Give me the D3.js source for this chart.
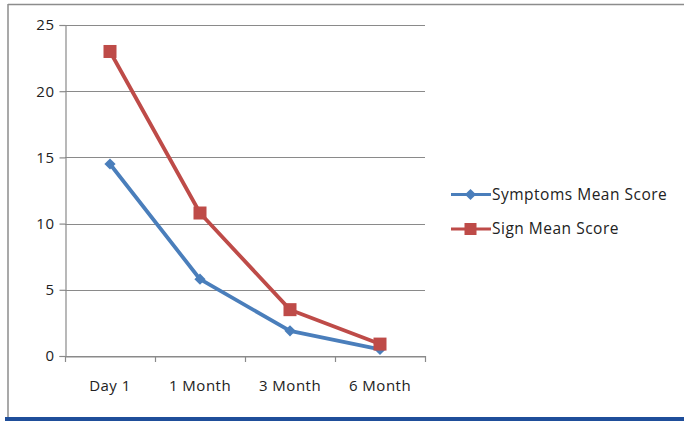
<!DOCTYPE html>
<html><head><meta charset="utf-8">
<script src="https://cdn.jsdelivr.net/npm/d3@7"></script>
<style>html,body{margin:0;padding:0;background:#fff;}svg{display:block;}</style>
</head><body>
<svg id="chart" width="684" height="421"></svg>
<script>
const categories = ["Day 1", "1 Month", "3 Month", "6 Month"];
const symptoms = [14.5, 5.8, 1.9, 0.5];
const signs = [23, 10.8, 3.5, 0.9];
const yTicks = [0, 5, 10, 15, 20, 25];
const seriesNames = ["Symptoms Mean Score", "Sign Mean Score"];
const seriesColors = ["#4A7EBB", "#BE4B48"];

const svg = d3.select("#chart");
const font = "'Open Sans', 'Liberation Sans', Arial, sans-serif";
const fs = 15;
const ls = "0.5px";

// outer frame
svg.append("line").attr("x1", 8).attr("x2", 684).attr("y1", 4.5).attr("y2", 4.5).attr("stroke", "#8c8c8c").attr("stroke-width", 1.5);
svg.append("line").attr("x1", 8).attr("x2", 8).attr("y1", 4).attr("y2", 418).attr("stroke", "#8c8c8c").attr("stroke-width", 1.5);
svg.append("rect").attr("x", 5).attr("y", 417).attr("width", 679).attr("height", 4).attr("fill", "#1F4E9A");

const pLeft = 65, pRight = 425, pTop = 25, pBottom = 356;
const x = d3.scaleBand().domain(categories).range([pLeft, pRight]).padding(0);
const y = d3.scaleLinear().domain([0, 25]).range([pBottom, pTop]);

// gridlines
svg.append("g").selectAll("line").data(yTicks).join("line")
  .attr("x1", pLeft).attr("x2", pRight)
  .attr("y1", d => Math.round(y(d)) + 0.5).attr("y2", d => Math.round(y(d)) + 0.5)
  .attr("stroke", "#8a8a8a").attr("stroke-width", 1.2);

// y axis
const yAxis = svg.append("g").attr("transform", `translate(${pLeft + 0.5},0)`)
  .call(d3.axisLeft(y).tickValues(yTicks).tickSize(6).tickPadding(5));
yAxis.select(".domain").attr("stroke", "#8a8a8a").attr("stroke-width", 1.2);
yAxis.selectAll(".tick line").attr("stroke", "#8a8a8a").attr("stroke-width", 1.2);
yAxis.selectAll(".tick text").attr("font-family", font).attr("font-size", fs).attr("letter-spacing", ls).attr("fill", "#222");

// x axis
const xAxis = svg.append("g").attr("transform", `translate(0,${Math.round(y(0)) + 0.5})`)
  .call(d3.axisBottom(x).tickSize(0).tickPadding(24));
xAxis.select(".domain").attr("stroke", "#8a8a8a").attr("stroke-width", 1.2);
xAxis.selectAll(".tick text").attr("font-family", font).attr("font-size", fs).attr("letter-spacing", ls).attr("fill", "#222");
// boundary ticks
const bounds = categories.map(c => x(c)).concat([pRight]);
svg.append("g").selectAll("line").data(bounds).join("line")
  .attr("x1", d => Math.round(d) + 0.5).attr("x2", d => Math.round(d) + 0.5)
  .attr("y1", Math.round(y(0))).attr("y2", Math.round(y(0)) + 6)
  .attr("stroke", "#8a8a8a").attr("stroke-width", 1.2);

const cx = c => x(c) + x.bandwidth() / 2;
const line = d3.line().x((d, i) => cx(categories[i])).y(d => y(d));

const allSeries = [symptoms, signs];
allSeries.forEach((vals, si) => {
  svg.append("path").datum(vals).attr("d", line)
    .attr("fill", "none").attr("stroke", seriesColors[si]).attr("stroke-width", 3.8)
    .attr("stroke-linejoin", "round");
});
// markers
const diamond = d3.symbol().type(d3.symbolDiamond2).size(80);
svg.append("g").selectAll("path").data(symptoms).join("path")
  .attr("transform", (d, i) => `translate(${cx(categories[i])},${y(d)})`)
  .attr("d", diamond).attr("fill", seriesColors[0]);
svg.append("g").selectAll("rect").data(signs).join("rect")
  .attr("x", (d, i) => cx(categories[i]) - 6.5).attr("y", d => y(d) - 6.5)
  .attr("width", 13).attr("height", 13).attr("fill", seriesColors[1]);

// legend
const legendY = [194.5, 229];
seriesNames.forEach((name, i) => {
  const g = svg.append("g").attr("transform", `translate(451,${legendY[i]})`);
  g.append("line").attr("x1", 0).attr("x2", 40).attr("y1", 0).attr("y2", 0)
    .attr("stroke", seriesColors[i]).attr("stroke-width", 3);
  if (i === 0) g.append("path").attr("transform", "translate(19.5,0)").attr("d", diamond).attr("fill", seriesColors[0]);
  else g.append("rect").attr("x", 13.5).attr("y", -6).attr("width", 12).attr("height", 12).attr("fill", seriesColors[1]);
  g.append("text").attr("x", 41).attr("y", 0).attr("dy", "0.35em")
    .attr("font-family", font).attr("font-size", fs + 0.5).attr("letter-spacing", ls).attr("fill", "#222").text(name);
});
</script>
</body></html>
